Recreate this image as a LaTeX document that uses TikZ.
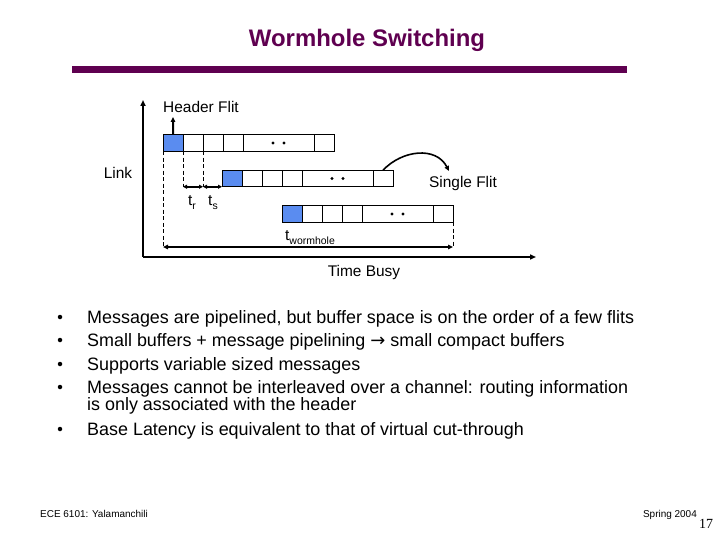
\documentclass[tikz,border=0pt]{standalone}
\usepackage{fontspec}
\setmainfont{Liberation Sans}
\newfontfamily\serifnum{Liberation Serif}
\newfontfamily\arrowfont{DejaVu Sans}
\usetikzlibrary{arrows.meta,positioning}
\definecolor{titlepurple}{HTML}{5F0050}
\definecolor{flitblue}{HTML}{5A8CF0}

\newcommand{\tsub}[1]{t\raisebox{-0.45ex}{\fontsize{10.5}{11}\selectfont #1}}

\begin{document}
\begin{tikzpicture}[x=1bp, y=-1bp,
    cell/.style={draw, line width=0.6bp, minimum width=20bp, minimum height=16.5bp,
                 inner sep=0pt, outer sep=0pt},
    headcell/.style={cell, fill=flitblue},
    dotcell/.style={cell, minimum width=71bp},
    lbl/.style={font=\fontsize{15.5}{18}\selectfont, inner sep=0pt, anchor=base},
    axis/.style={line width=2bp, -{Triangle[length=6bp,width=5bp]}},
    pointer/.style={line width=2bp, -{Triangle[length=5bp,width=4.5bp]}},
    span/.style={line width=1.6bp, {Triangle[length=5bp,width=4.5bp]}-{Triangle[length=5bp,width=4.5bp]}},
    tick/.style={line width=1.6bp, {Triangle[length=4bp,width=4bp]}-{Triangle[length=4bp,width=4bp]}},
    guide/.style={line width=0.7bp, dash pattern=on 4bp off 2.5bp},
    bullettext/.style={font=\fontsize{18}{17}\selectfont, anchor=base west, inner sep=0pt},
    bulletdot/.style={circle, fill, inner sep=0pt, minimum size=4.5bp},
    footer/.style={font=\fontsize{10}{12}\selectfont, inner sep=0pt}
]
\useasboundingbox (0,0) rectangle (720,540);

% --- title ---
\node[font=\bfseries\fontsize{24}{28}\selectfont, text=titlepurple, anchor=base] (title) at (367,47) {Wormhole Switching};
\draw[titlepurple, line width=6.5bp] (72,69.5) -- (627,69.5);

% --- axes ---
\coordinate (origin) at (143,257);
\coordinate (ytop) at (143,100);
\coordinate (xend) at (536,257);
\draw[axis] (origin) -- (ytop);
\draw[axis] (origin) -- (xend);

% --- flit rows ---
\foreach \r/\x/\y in {a/163/143, b/222/178.5, c/282/214}{
  \node[headcell, anchor=west] (\r0) at (\x,\y) {};
  \node[cell, right=0pt of \r0] (\r1) {};
  \node[cell, right=0pt of \r1] (\r2) {};
  \node[cell, right=0pt of \r2] (\r3) {};
  \node[dotcell, right=0pt of \r3] (\r4) {};
  \node[cell, right=0pt of \r4] (\r5) {};
  \fill ([xshift=-5.5bp]\r4.center) circle (1.7bp);
  \fill ([xshift=5.5bp]\r4.center) circle (1.7bp);
}

% --- labels ---
\node[lbl] (header) at (201,113) {Header Flit};
\node[lbl] (link) at (118,179) {Link};
\node[lbl] (single) at (463,187.5) {Single Flit};
\node[lbl] (busy) at (364,277) {Time Busy};
\node[lbl] (tr) at (192,206) {\tsub{r}};
\node[lbl] (ts) at (213,206) {\tsub{s}};
\node[lbl, anchor=base west] (tw) at (285,241) {\tsub{wormhole}};

% --- header flit pointer ---
\coordinate (hdtip) at (173,117);
\draw[pointer] (a0.north) -- (hdtip);

% --- timing guides ---
\coordinate (wbar) at (300,247);
\coordinate (wl) at (a0.south west |- wbar);
\coordinate (wr) at (c5.south east |- wbar);
\coordinate (trl) at (a1.south west |- b0.south);
\coordinate (trr) at (a2.south west |- b0.south);
\draw[guide] (a0.south west) -- (wl);
\draw[guide] (c5.south east) -- (wr);
\draw[guide] (a1.south west) -- (trl);
\draw[guide] (a2.south west) -- (trr);
\draw[tick] (trl) -- (trr);
\draw[tick] (trr) -- (b0.south west);
\draw[span] (wl) -- (wr);

% --- single flit hop ---
\coordinate (hopend) at (449,171);
\draw[pointer, line width=1.6bp] (b5.north) .. controls (402,150) and (436,146) .. (hopend);

% --- bullets ---
\foreach \i/\y in {1/323, 2/346, 3/370, 4/393, 5/435}
  \node[bulletdot] (dot\i) at (60,\y-6) {};
\node[bullettext] (item1) at (87,323) {Messages are pipelined, but buffer space is on the order of a few flits};
\node[bullettext] (item2) at (87,346) {Small buffers + message pipelining {\arrowfont\fontsize{18}{17}\selectfont →} small compact buffers};
\node[bullettext] (item3) at (87,370) {Supports variable sized messages};
\node[bullettext] (item4) at (87,393) {Messages cannot be interleaved over a channel: routing information};
\node[bullettext] (item4b) at (87,410) {is only associated with the header};
\node[bullettext] (item5) at (87,435) {Base Latency is equivalent to that of virtual cut-through};

% --- footer ---
\node[footer, anchor=base west] (course) at (40,517) {ECE 6101: Yalamanchili};
\node[footer, anchor=base east] (term) at (697,517) {Spring 2004};
\node[font=\serifnum\fontsize{14}{14}\selectfont, anchor=base west, inner sep=0pt] (page) at (699,528) {17};

\end{tikzpicture}
\end{document}
